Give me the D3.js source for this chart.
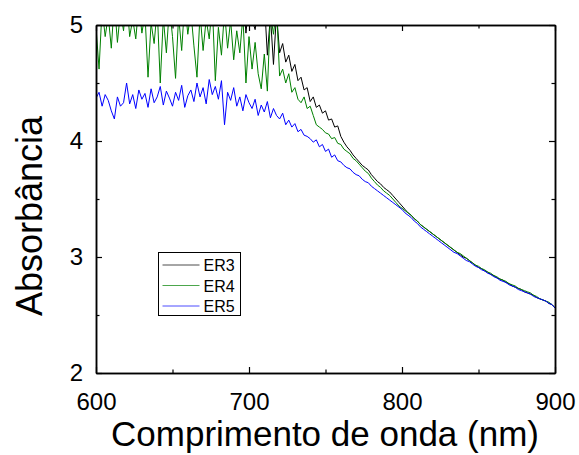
<!DOCTYPE html>
<html>
<head>
<meta charset="utf-8">
<script src="https://cdn.jsdelivr.net/npm/d3@7"></script>
<style>
body { margin: 0; background: #fff; }
svg text { font-family: Arial, "Liberation Sans", sans-serif; fill: #000; }
</style>
</head>
<body>
<div id="chart"></div>
<script>
// wavelength grid (nm), one value every 2 nm
var wavelengths = d3.range(600, 901, 2);

var seriesNames = ["ER3", "ER4", "ER5"];
var seriesColors = ["#000000", "#008000", "#0000ff"];

var er3 = [
 5.45, 5.70, 5.38, 5.62, 5.50, 5.80, 5.42, 5.66, 5.55, 5.35,
 5.72, 5.48, 5.60, 5.40, 5.75, 5.52, 5.44, 5.68, 5.36, 5.58,
 5.47, 5.70, 5.33, 5.61, 5.50, 5.40, 5.65, 5.30, 5.55, 5.44,
 5.62, 5.28, 5.50, 5.38, 5.58, 5.25, 5.46, 5.34, 5.52, 5.22,
 5.40, 5.30, 5.48, 5.18, 5.35, 5.24, 5.42, 5.12, 5.30, 4.93,
 5.20, 5.05, 4.96, 5.15, 5.02, 5.22, 4.74, 5.08, 4.66, 5.10,
 4.76, 4.84, 4.68, 4.74, 4.60, 4.66, 4.52, 4.55, 4.44, 4.46,
 4.34, 4.38, 4.29, 4.31, 4.24, 4.26, 4.18, 4.19, 4.12, 4.13,
 4.04, 3.99, 3.95, 3.92, 3.88, 3.85, 3.82, 3.79, 3.77, 3.75,
 3.71, 3.68, 3.65, 3.63, 3.60, 3.58, 3.56, 3.53, 3.50, 3.47,
 3.44, 3.41, 3.38, 3.36, 3.33, 3.31, 3.28, 3.26, 3.24, 3.22,
 3.20, 3.18, 3.16, 3.14, 3.12, 3.10, 3.08, 3.06, 3.04, 3.02,
 3.00, 2.99, 2.97, 2.95, 2.93, 2.91, 2.90, 2.88, 2.87, 2.85,
 2.84, 2.82, 2.81, 2.80, 2.78, 2.77, 2.75, 2.74, 2.73, 2.72,
 2.70, 2.69, 2.68, 2.67, 2.65, 2.64, 2.63, 2.62, 2.60, 2.59,
 2.56];

var er4 = [
 4.98, 4.62, 5.15, 4.90, 5.08, 4.80, 5.20, 4.85, 5.12, 4.95,
 5.25, 4.90, 5.05, 4.88, 5.18, 4.93, 5.10, 4.55, 5.02, 4.84,
 5.14, 4.50, 5.06, 4.76, 5.16, 4.90, 4.54, 5.08, 4.78, 5.20,
 4.92, 5.12, 4.82, 4.55, 5.10, 4.78, 5.05, 4.88, 5.18, 4.52,
 4.98, 4.74, 5.12, 4.80, 5.04, 4.70, 4.95, 4.76, 5.08, 4.50,
 4.90, 4.62, 4.85, 4.58, 4.45, 4.75, 4.43, 5.10, 4.92, 5.15,
 4.56, 4.62, 4.50, 4.58, 4.42, 4.46, 4.36, 4.33, 4.38, 4.28,
 4.30, 4.22, 4.14, 4.12, 4.10, 4.07, 4.06, 4.02, 4.03, 3.98,
 3.97, 3.93, 3.91, 3.89, 3.85, 3.83, 3.80, 3.77, 3.74, 3.72,
 3.68, 3.65, 3.62, 3.60, 3.57, 3.55, 3.53, 3.50, 3.47, 3.44,
 3.42, 3.40, 3.38, 3.36, 3.33, 3.31, 3.28, 3.26, 3.24, 3.22,
 3.20, 3.18, 3.16, 3.14, 3.12, 3.10, 3.08, 3.06, 3.04, 3.03,
 3.01, 2.99, 2.97, 2.95, 2.93, 2.92, 2.90, 2.89, 2.87, 2.86,
 2.84, 2.83, 2.81, 2.80, 2.79, 2.77, 2.76, 2.75, 2.73, 2.72,
 2.71, 2.70, 2.69, 2.67, 2.66, 2.64, 2.63, 2.62, 2.61, 2.59,
 2.56];

var er5 = [
 4.37, 4.42, 4.30, 4.40, 4.35, 4.26, 4.19, 4.38, 4.30, 4.33,
 4.50, 4.32, 4.40, 4.28, 4.44, 4.36, 4.41, 4.29, 4.45, 4.33,
 4.38, 4.47, 4.31, 4.43, 4.37, 4.30, 4.42, 4.35, 4.48, 4.29,
 4.39, 4.44, 4.34, 4.50, 4.38, 4.46, 4.32, 4.53, 4.40, 4.47,
 4.36, 4.52, 4.14, 4.42, 4.35, 4.46, 4.30, 4.38, 4.26, 4.40,
 4.33, 4.28, 4.36, 4.22, 4.31, 4.25, 4.34, 4.20, 4.28, 4.22,
 4.19, 4.24, 4.14, 4.18, 4.12, 4.15, 4.08, 4.10, 4.05, 4.04,
 4.02, 3.99, 4.01, 3.95, 3.97, 3.91, 3.93, 3.86, 3.88, 3.83,
 3.82, 3.79, 3.77, 3.76, 3.73, 3.71, 3.70, 3.67, 3.65, 3.64,
 3.61, 3.59, 3.57, 3.55, 3.53, 3.51, 3.49, 3.47, 3.45, 3.43,
 3.41, 3.38, 3.36, 3.34, 3.31, 3.29, 3.26, 3.24, 3.22, 3.20,
 3.18, 3.16, 3.14, 3.12, 3.10, 3.08, 3.06, 3.04, 3.03, 3.01,
 2.99, 2.97, 2.96, 2.94, 2.92, 2.91, 2.89, 2.88, 2.86, 2.85,
 2.83, 2.82, 2.80, 2.79, 2.78, 2.76, 2.75, 2.74, 2.72, 2.71,
 2.70, 2.69, 2.68, 2.66, 2.65, 2.64, 2.63, 2.62, 2.60, 2.59,
 2.56];

var xMajor = [600, 700, 800, 900];
var xMinor = [650, 750, 850];
var yMajor = [2, 3, 4, 5];
var yMinor = [2.5, 3.5, 4.5];

var allSeries = [er3, er4, er5];

var margin = {top: 25, right: 24, bottom: 82, left: 96},
    width = 579 - margin.left - margin.right,
    height = 455 - margin.top - margin.bottom;

var svg = d3.select("#chart")
  .append("svg")
    .attr("width", 579)
    .attr("height", 455)
  .append("g")
    .attr("transform", "translate(" + margin.left + "," + margin.top + ")");

var x = d3.scaleLinear().domain([600, 900]).range([0, width]);
var y = d3.scaleLinear().domain([2, 5]).range([height, 0]);

svg.append("clipPath")
    .attr("id", "clip")
  .append("rect")
    .attr("width", width)
    .attr("height", height);

// lines
var line = d3.line()
  .x(function(d, i) { return x(wavelengths[i]); })
  .y(function(d) { return y(d); });

svg.append("g")
    .attr("clip-path", "url(#clip)")
  .selectAll("path")
  .data(allSeries)
  .enter()
  .append("path")
    .attr("d", line)
    .attr("fill", "none")
    .attr("stroke", function(d, i) { return seriesColors[i]; })
    .attr("stroke-width", 1);

// axes, ticks pointing inward
function styleAxis(g) {
  g.selectAll("path.domain").attr("stroke", "#000").attr("stroke-width", 1.5);
  g.selectAll(".tick line").attr("stroke", "#000").attr("stroke-width", 1.2);
  g.selectAll("text").style("font-size", "24px").attr("fill", "#000");
}

svg.append("g")
    .attr("transform", "translate(0," + height + ")")
    .call(d3.axisBottom(x).tickValues(xMajor).tickSizeInner(-6).tickSizeOuter(0).tickPadding(20))
    .call(styleAxis);
svg.append("g")
    .attr("transform", "translate(0," + height + ")")
    .call(d3.axisBottom(x).tickValues(xMinor).tickSizeInner(-3.5).tickSizeOuter(0).tickFormat(""))
    .call(styleAxis);
svg.append("g")
    .call(d3.axisTop(x).tickValues(xMajor).tickSizeInner(-6).tickSizeOuter(0).tickFormat(""))
    .call(styleAxis);
svg.append("g")
    .call(d3.axisTop(x).tickValues(xMinor).tickSizeInner(-3.5).tickSizeOuter(0).tickFormat(""))
    .call(styleAxis);

svg.append("g")
    .call(d3.axisLeft(y).tickValues(yMajor).tickSizeInner(-6).tickSizeOuter(0).tickPadding(13).tickFormat(d3.format("d")))
    .call(styleAxis);
svg.append("g")
    .call(d3.axisLeft(y).tickValues(yMinor).tickSizeInner(-3.5).tickSizeOuter(0).tickFormat(""))
    .call(styleAxis);
svg.append("g")
    .attr("transform", "translate(" + width + ",0)")
    .call(d3.axisRight(y).tickValues(yMajor).tickSizeInner(-6).tickSizeOuter(0).tickFormat(""))
    .call(styleAxis);
svg.append("g")
    .attr("transform", "translate(" + width + ",0)")
    .call(d3.axisRight(y).tickValues(yMinor).tickSizeInner(-3.5).tickSizeOuter(0).tickFormat(""))
    .call(styleAxis);

// axis titles
svg.append("text")
    .attr("x", 229)
    .attr("y", 421)
    .attr("text-anchor", "middle")
    .style("font-size", "35px")
    .text("Comprimento de onda (nm)");

svg.append("text")
    .attr("transform", "translate(-54," + 191 + ") rotate(-90)")
    .attr("text-anchor", "middle")
    .style("font-size", "36px")
    .text("Absorbância");

// legend
var legend = svg.append("g")
    .attr("transform", "translate(62.5,227.5)");

legend.append("rect")
    .attr("width", 82)
    .attr("height", 63)
    .attr("fill", "#fff")
    .attr("stroke", "#000")
    .attr("stroke-width", 1);

var rows = legend.selectAll("g.row")
  .data(seriesNames)
  .enter()
  .append("g")
    .attr("class", "row")
    .attr("transform", function(d, i) { return "translate(0," + (12.5 + i * 20.5) + ")"; });

rows.append("line")
    .attr("x1", 4)
    .attr("x2", 41)
    .attr("y1", 0)
    .attr("y2", 0)
    .attr("stroke", function(d, i) { return seriesColors[i]; })
    .attr("stroke-opacity", 0.7)
    .attr("stroke-width", 1);

rows.append("text")
    .attr("x", 45)
    .attr("y", 6)
    .style("font-size", "16px")
    .text(function(d) { return d; });
</script>
</body>
</html>
